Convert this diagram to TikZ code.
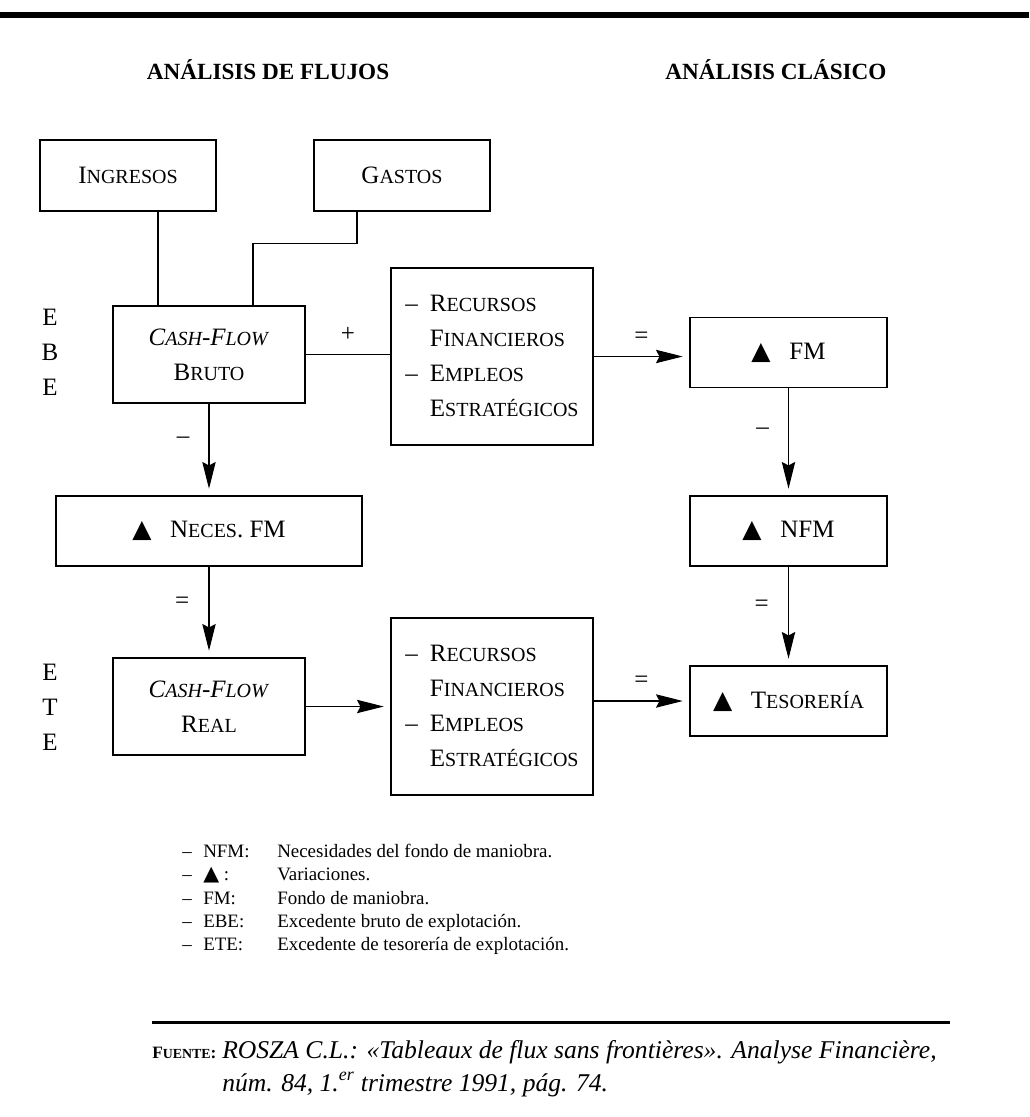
\documentclass[tikz,border=0pt]{standalone}
\usepackage{fontspec}
\setmainfont{Liberation Serif}
\newfontfamily\symfont{DejaVu Sans}
\usetikzlibrary{arrows.meta,calc}
\newcommand\tri{{\symfont ▲}}
\newcommand\sca[1]{{\fontsize{15}{15}\selectfont #1}}
\newcommand\rflist{\begin{tabular}{@{}l@{\hspace{9pt}}l@{}}
–&R\sca{ECURSOS}\\&F\sca{INANCIEROS}\\–&E\sca{MPLEOS}\\&E\sca{STRATÉGICOS}\end{tabular}}
\begin{document}
\begin{tikzpicture}[x=.75pt,y=-.75pt,
    box/.style={draw,line width=.9pt,inner sep=0pt,align=center,
      font=\fontsize{18.75}{26.25}\selectfont},
    small/.style={minimum width=132pt,minimum height=53.25pt},
    cf/.style={minimum width=144pt,minimum height=72.75pt},
    rf/.style={minimum width=151.5pt,minimum height=132.75pt},
    var/.style={minimum width=147.75pt,minimum height=52.5pt},
    lnk/.style={line width=.9pt},
    arr/.style={line width=.9pt,-{Stealth[length=20pt,width=10pt,inset=2.5pt]},shorten >=5pt},
    sgn/.style={font=\fontsize{18.75}{22}\selectfont},
    head/.style={font=\bfseries\fontsize{17.4}{20}\selectfont},
    side/.style={align=center,font=\fontsize{18.75}{26.25}\selectfont}]
  \useasboundingbox (0,0) rectangle (1029,1117);
  \fill (0,12) rectangle (1029,18);
  % titulos
  \node[head] (hflujos) at (268,70) {ANÁLISIS DE FLUJOS};
  \node[head] (hclasico) at (776,70) {ANÁLISIS CLÁSICO};
  % cajas
  \node[box,small] (ingresos) at (128,175.5) {I\sca{NGRESOS}};
  \node[box,small] (gastos) at (402,175.5) {G\sca{ASTOS}};
  \node[box,cf] (bruto) at (209,354.5) {\textit{C\sca{ASH}-F\sca{LOW}}\\B\sca{RUTO}};
  \node[box,rf] (rf1) at (492,356.5) {\rflist};
  \node[box,var] (fm) at (788.5,352.5) {\tri\hspace{14pt}FM};
  \node[box,minimum width=229.5pt,minimum height=52.5pt] (neces) at (209,531) {\tri\hspace{14pt}N\sca{ECES}. FM};
  \node[box,var] (nfm) at (788.5,531) {\tri\hspace{14pt}NFM};
  \node[box,cf] (real) at (209,706.5) {\textit{C\sca{ASH}-F\sca{LOW}}\\R\sca{EAL}};
  \node[box,rf] (rf2) at (492,706.5) {\rflist};
  \node[box,var] (teso) at (788.5,701) {\tri\hspace{14pt}T\sca{ESORERÍA}};
  \node[side] (ebe) at (50,352) {E\\B\\E};
  \node[side] (ete) at (50,707) {E\\T\\E};
  % conexiones
  \draw[lnk] ($(ingresos.south)+(30,0)$) coordinate (i1) -- (i1 |- bruto.north);
  \draw[lnk] ($(gastos.south)+(-45,0)$) -- ++(0,32) -| ($(bruto.north)+(44,0)$);
  \draw[lnk] (bruto.east) -- node[above=6pt,sgn]{+} (bruto.east -| rf1.west);
  \draw[arr] (rf1.east) -- node[above=6pt,sgn]{=} (rf1.east -| fm.west);
  \draw[arr] (bruto) -- node[left=11pt,pos=.4,sgn]{–} (neces);
  \draw[arr] (neces) -- node[left=11pt,pos=.4,sgn]{=} (real);
  \draw[arr] (fm) -- node[left=11pt,pos=.4,sgn]{–} (nfm);
  \draw[arr] (nfm) -- node[left=11pt,pos=.4,sgn]{=} (teso);
  \draw[arr] (real.east) -- (real.east -| rf2.west);
  \draw[arr] (rf2.east |- teso.west) -- node[above=6pt,sgn]{=} (teso.west);
  % leyenda
  \node[anchor=west,inner sep=0pt,font=\fontsize{14.2}{17.4}\selectfont] (leyenda) at (182,899.5)
    {\begin{tabular}{@{}p{15.75pt}@{}p{55.5pt}@{}l@{}}
      – & NFM: & Necesidades del fondo de maniobra.\\
      – & {\symfont\fontsize{15.5}{15}\selectfont ▲}\ : & Variaciones.\\
      – & FM: & Fondo de maniobra.\\
      – & EBE: & Excedente bruto de explotación.\\
      – & ETE: & Excedente de tesorería de explotación.
    \end{tabular}};
  \draw[line width=2.25pt] (152,1022) -- (950,1022);
  \node[anchor=base west,inner sep=0pt,font=\bfseries\fontsize{13}{14}\selectfont] (fuente) at (152,1058)
    {F{\fontsize{10.4}{10}\selectfont UENTE}:};
  \node[anchor=base west,inner sep=0pt,align=left,
    font=\itshape\fontsize{19.2}{24.75}\selectfont] (cita) at (222,1091)
    {ROSZA C.L.: «Tableaux de flux sans frontières». Analyse Financière,\\
     núm. 84, 1.\textsuperscript{er} trimestre 1991, pág. 74.};
\end{tikzpicture}
\end{document}
